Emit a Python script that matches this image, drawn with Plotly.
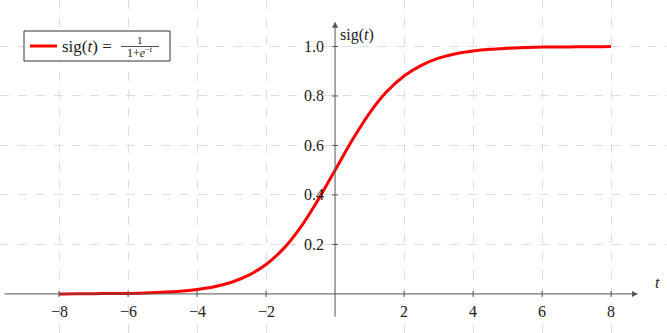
import plotly.graph_objects as go

# Data
t_vals = [-8, -7.5, -7, -6.5, -6, -5.5, -5, -4.5, -4, -3.5, -3, -2.5, -2, -1.5, -1, -0.5,
          0, 0.5, 1, 1.5, 2, 2.5, 3, 3.5, 4, 4.5, 5, 5.5, 6, 6.5, 7, 7.5, 8]
sig_vals = [0.000, 0.001, 0.001, 0.002, 0.002, 0.004, 0.007, 0.011, 0.018, 0.029, 0.047, 0.076,
            0.119, 0.182, 0.269, 0.378, 0.500, 0.622, 0.731, 0.818, 0.881, 0.924, 0.953, 0.971,
            0.982, 0.989, 0.993, 0.996, 0.998, 0.998, 0.999, 0.999, 1.000]
x_ticks = [-8, -6, -4, -2, 2, 4, 6, 8]
x_tick_labels = ["−8", "−6", "−4", "−2", "2", "4", "6", "8"]
y_ticks = [0.2, 0.4, 0.6, 0.8, 1.0]
y_tick_labels = ["0.2", "0.4", "0.6", "0.8", "1.0"]

FONT = "Liberation Serif"
AX = "#555555"
TXT = "#222222"

fig = go.Figure()
fig.add_trace(go.Scatter(x=t_vals, y=sig_vals, mode="lines", line=dict(color="#ff0000", width=3, shape="spline"),
                         showlegend=False, hoverinfo="skip"))

xr = [-9.71, 9.62]
yr = [-0.158, 1.188]

annotations = []
shapes = []
# axes with arrows
annotations.append(dict(x=8.78, y=0, ax=-9.62, ay=0, xref="x", yref="y", axref="x", ayref="y",
                        text="", showarrow=True, arrowhead=2, arrowsize=1.2, arrowwidth=1, arrowcolor=AX))
annotations.append(dict(x=0, y=1.1, ax=0, ay=-0.098, xref="x", yref="y", axref="x", ayref="y",
                        text="", showarrow=True, arrowhead=2, arrowsize=1.2, arrowwidth=1, arrowcolor=AX))
# tick marks and labels
for t, lab in zip(x_ticks, x_tick_labels):
    shapes.append(dict(type="line", xref="x", yref="y", x0=t, x1=t, ysizemode="pixel", yanchor=0,
                       y0=-3, y1=3, line=dict(color=AX, width=1)))
    annotations.append(dict(x=t, y=0, xref="x", yref="y", text=lab, showarrow=False, yshift=-18,
                            font=dict(family=FONT, size=16, color=TXT)))
for v, lab in zip(y_ticks, y_tick_labels):
    shapes.append(dict(type="line", xref="x", yref="y", y0=v, y1=v, xsizemode="pixel", xanchor=0,
                       x0=-3, x1=3, line=dict(color=AX, width=1)))
    annotations.append(dict(x=0, y=v, xref="x", yref="y", text=lab, showarrow=False, xanchor="right",
                            xshift=-9, font=dict(family=FONT, size=16, color=TXT)))
# axis labels
annotations.append(dict(x=0, y=1.045, xref="x", yref="y", text="sig(<i>t</i>)", showarrow=False, xanchor="left",
                        xshift=3, font=dict(family=FONT, size=16, color=TXT)))
annotations.append(dict(x=9.35, y=0.045, xref="x", yref="y", text="<i>t</i>", showarrow=False,
                        font=dict(family=FONT, size=16, color=TXT)))

# legend box (pixel -> paper)
W, H = 667, 333
def px(x): return x / W
def py(y): return 1 - y / H
shapes.append(dict(type="rect", xref="paper", yref="paper", x0=px(24), x1=px(170), y0=py(61), y1=py(31),
                   line=dict(color="#333", width=1), fillcolor="white"))
shapes.append(dict(type="line", xref="paper", yref="paper", x0=px(30), x1=px(57), y0=py(46), y1=py(46),
                   line=dict(color="#ff0000", width=3)))
annotations.append(dict(x=px(60), y=py(46), xref="paper", yref="paper", xanchor="left", yanchor="middle",
                        text="sig(<i>t</i>) =", showarrow=False, font=dict(family=FONT, size=17, color=TXT)))
shapes.append(dict(type="line", xref="paper", yref="paper", x0=px(121), x1=px(159), y0=py(46.5), y1=py(46.5),
                   line=dict(color=TXT, width=0.8)))
annotations.append(dict(x=px(140), y=py(40.5), xref="paper", yref="paper", xanchor="center", yanchor="middle",
                        text="1", showarrow=False, font=dict(family=FONT, size=11, color=TXT)))
annotations.append(dict(x=px(140), y=py(53), xref="paper", yref="paper", xanchor="center", yanchor="middle",
                        text="1+<i>e</i><sup>−<i>t</i></sup>", showarrow=False, font=dict(family=FONT, size=12, color=TXT)))

grid = dict(showgrid=True, gridcolor="#dddddd", griddash="dash", gridwidth=1, zeroline=False,
            showticklabels=False, ticks="", showline=False)
fig.update_layout(
    width=W, height=H, margin=dict(l=0, r=0, t=0, b=0),
    paper_bgcolor="white", plot_bgcolor="white", font=dict(family=FONT),
    xaxis=dict(range=xr, tickvals=[-10, -8, -6, -4, -2, 2, 4, 6, 8, 10], **grid),
    yaxis=dict(range=yr, tickvals=[0.2, 0.4, 0.6, 0.8, 1.0, 1.2], **grid),
    shapes=shapes, annotations=annotations, showlegend=False,
)
fig.write_html("out.html")
